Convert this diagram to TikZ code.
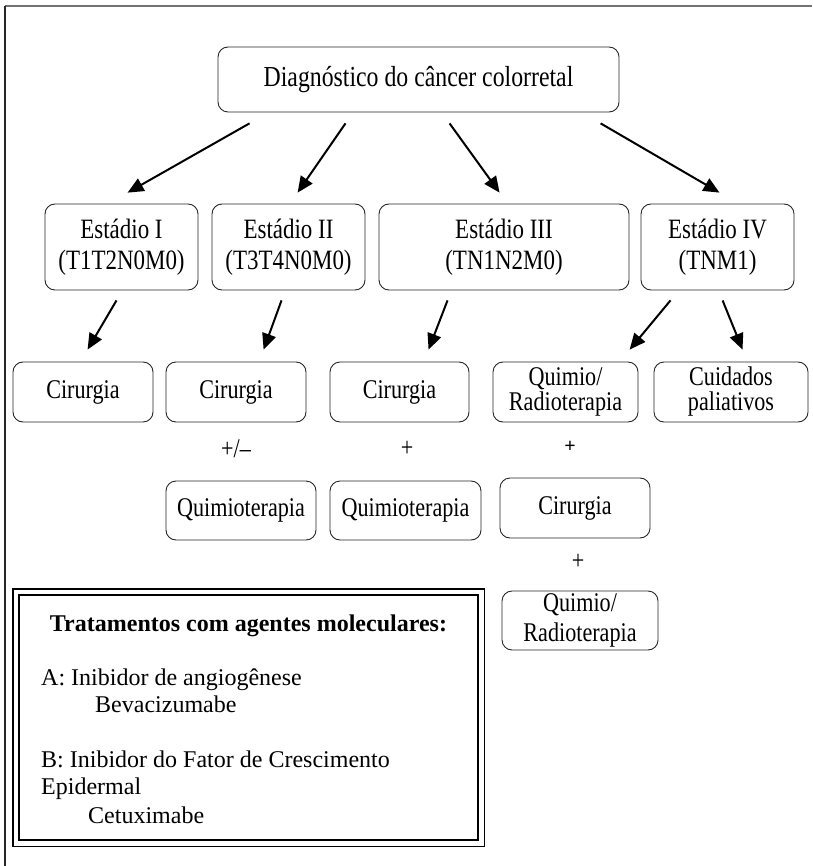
\documentclass[tikz,border=0pt]{standalone}
\usepackage{fontspec}
\setmainfont{Liberation Serif}
\newfontfamily\boxfont{Liberation Serif}[FakeStretch=0.82]
\usetikzlibrary{arrows.meta,positioning}

\tikzset{
  stagebox/.style={draw=black!85, line width=0.9pt, rounded corners=10pt, align=center, inner sep=0pt, font=\boxfont\fontsize{28}{31}\selectfont},
  treatbox/.style={stagebox, font=\boxfont\fontsize{27}{25}\selectfont},
  plussign/.style={inner sep=0pt, font=\boxfont\fontsize{27}{25}\selectfont},
  legendtext/.style={inner sep=0pt, anchor=base west, font=\fontsize{24}{27}\selectfont},
  arr/.style={line width=2pt, -{Triangle[length=16pt,width=14pt]}},
}

\begin{document}
\begin{tikzpicture}[x=1pt, y=-1pt]
\useasboundingbox (0,0) rectangle (812,866);

% frame
\draw[black!55, line width=1.8pt] (5,6) -- (812,6);
\draw[black!85, line width=1.8pt] (5,6) -- (5,866);

\node[stagebox, font=\boxfont\fontsize{29}{30}\selectfont, minimum width=401, minimum height=65] (diag) at (418.5,79.5) {Diagnóstico do câncer colorretal};

% stages
\node[stagebox, minimum width=153, minimum height=86]	(st1)	at (121.5,247)	{Estádio I\\(T1T2N0M0)};
\node[stagebox, minimum width=153, minimum height=86]	(st2)	at (288.5,247)	{Estádio II\\(T3T4N0M0)};
\node[stagebox, minimum width=250, minimum height=86]	(st3)	at (504,247)	{Estádio III\\(TN1N2M0)};
\node[stagebox, minimum width=153, minimum height=86]	(st4)	at (717.5,247)	{Estádio IV\\(TNM1)};

% treatments
\node[treatbox, minimum width=140, minimum height=60]	(cir1)	at (83,392)	{Cirurgia};
\node[treatbox, minimum width=140, minimum height=60]	(cir2)	at (236,392)	{Cirurgia};
\node[treatbox, minimum width=139, minimum height=60]	(cir3)	at (399.5,392)	{Cirurgia};
\node[treatbox, minimum width=145, minimum height=60]	(qr1)	at (565.5,392)	{Quimio/\\Radioterapia};
\node[treatbox, minimum width=154, minimum height=60]	(cuid)	at (731,392)	{Cuidados\\paliativos};

\node[plussign]	(pm)	at (236,449)	{+/–};
\node[plussign]	(p1)	at (407,449)	{+};
\node[plussign, font=\fontsize{20}{24}\selectfont\bfseries]	(p2)	at (570,447)	{+};

\node[treatbox, minimum width=150, minimum height=59]	(quim1)	at (241,510.5)	{Quimioterapia};
\node[treatbox, minimum width=151, minimum height=59]	(quim2)	at (405.5,510.5)	{Quimioterapia};
\node[treatbox, minimum width=150, minimum height=60]	(cir4)	at (575,508)	{Cirurgia};

\node[plussign]	(p3)	at (578,562)	{+};
\node[treatbox, minimum width=156, minimum height=59]	(qr2)	at (580,620.5)	{Quimio/\\[5pt]Radioterapia};

% Connect nodes
\draw[arr, shorten <=22.1pt, shorten >=22.1pt] ([xshift=51.2]diag.south west) -- ([xshift=63.8]st1.north west);
\draw[arr, shorten <=13.3pt, shorten >=13.3pt] ([xshift=135.5]diag.south west) -- ([xshift=78.5]st2.north west);
\draw[arr, shorten <=13.5pt, shorten >=13.5pt] ([xshift=224.1]diag.south west) -- ([xshift=128.9]st3.north west);
\draw[arr, shorten <=21.7pt, shorten >=21.7pt] ([xshift=364.3]diag.south west) -- ([xshift=97.7]st4.north west);

\draw[arr, shorten <=11.6pt, shorten >=13.9pt] ([xshift=77.8]st1.south west) -- ([xshift=68]cir1.north west);
\draw[arr, shorten <=10.6pt, shorten >=12.7pt] ([xshift=73.6]st2.south west) -- ([xshift=93.7]cir2.north west);
\draw[arr, shorten <=10.7pt, shorten >=12.8pt] ([xshift=72.8]st3.south west) -- ([xshift=94.4]cir3.north west);
\draw[arr, shorten <=12.9pt, shorten >=15.5pt] ([xshift=38.2]st4.south west) -- ([xshift=127.2]qr1.north west);
\draw[arr, shorten <=10.8pt, shorten >=12.9pt] ([xshift=78]st4.south west) -- ([xshift=93.8]cuid.north west);

% legend
\node[draw=black, line width=2.2pt, minimum width=459, minimum height=245, inner sep=0pt] (legend) at (248.5,717.5) {};
\draw[black, line width=1.2pt] ([shift={(-5,-5)}]legend.north west) rectangle ([shift={(5,5)}]legend.south east);

\node[legendtext, anchor=base, font=\fontsize{24}{27}\selectfont\bfseries]	(title)	at (248.5,631)	{Tratamentos com agentes moleculares:};
\node[legendtext]	(la)	at (41,685)	{A: Inibidor de angiogênese};
\node[legendtext]	(lbev)	at (95,712)	{Bevacizumabe};
\node[legendtext]	(lb)	at (41,767)	{B: Inibidor do Fator de Crescimento};
\node[legendtext]	(lepi)	at (41,794)	{Epidermal};
\node[legendtext]	(lcet)	at (88,823)	{Cetuximabe};

\end{tikzpicture}
\end{document}
